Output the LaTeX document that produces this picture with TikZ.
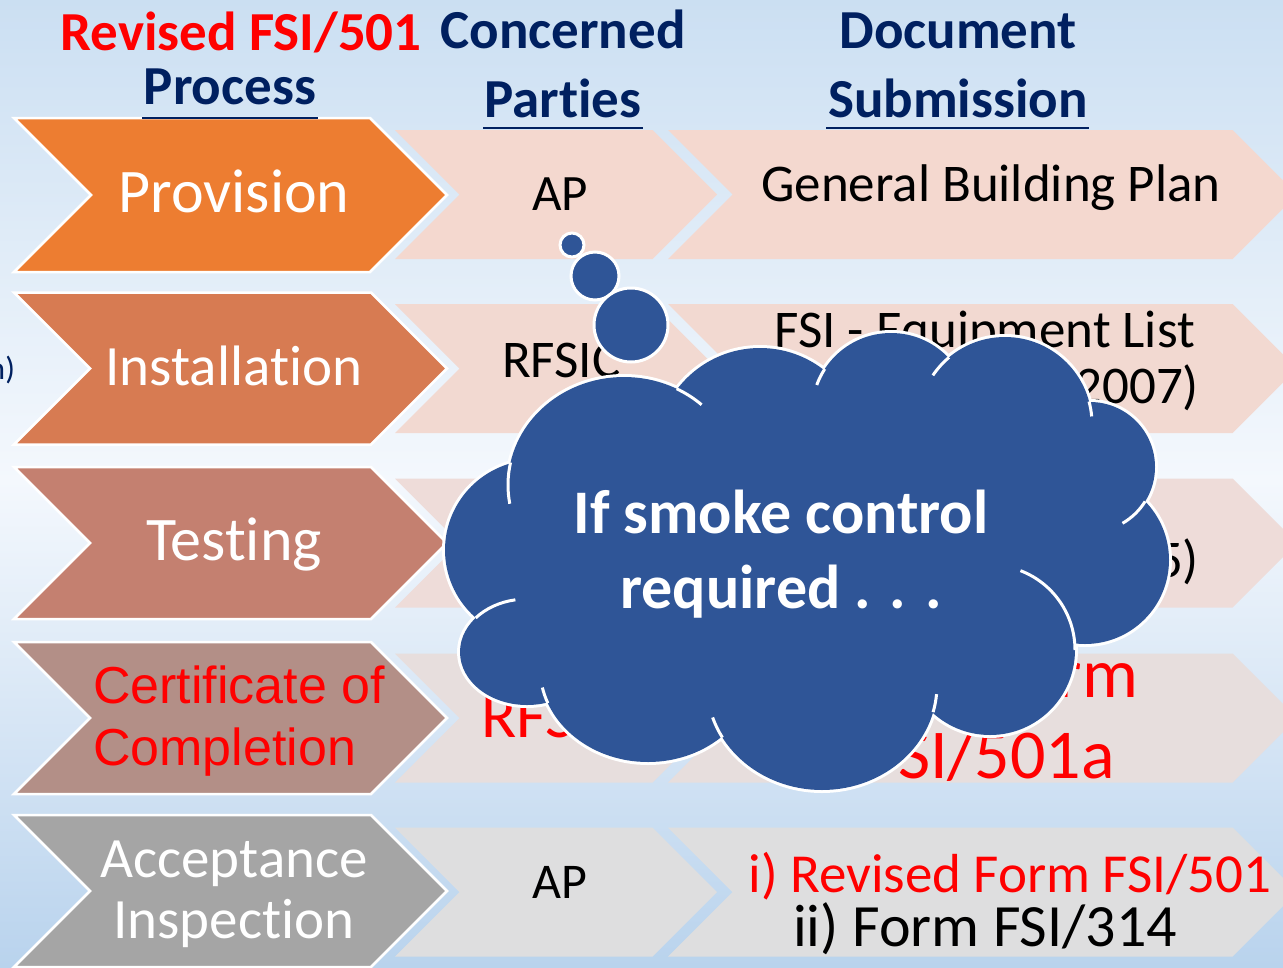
\documentclass[tikz,border=0pt]{standalone}
\usepackage{fontspec}
\setmainfont{Carlito}[Ligatures=NoCommon]
\newfontfamily\arialfont{Liberation Sans}[Ligatures=NoCommon]
\definecolor{bgtop}{HTML}{CBDFF2}
\definecolor{bgmid}{HTML}{F4F8FD}
\definecolor{bgbot}{HTML}{B9D3ED}
\definecolor{navy}{HTML}{002060}
\definecolor{cloudblue}{HTML}{2F5597}
\definecolor{cA}{HTML}{ED7D31}
\definecolor{cB}{HTML}{D77B52}
\definecolor{cC}{HTML}{C48070}
\definecolor{cD}{HTML}{B38F87}
\definecolor{cE}{HTML}{A5A5A5}
\definecolor{lA}{HTML}{F4D8CF}
\definecolor{lB}{HTML}{F2D9D1}
\definecolor{lC}{HTML}{EEDCD9}
\definecolor{lD}{HTML}{E7DEDD}
\definecolor{lE}{HTML}{DEDEDF}
\newcommand{\pxsize}[1]{\fontsize{#1}{#1}\selectfont}
\newcommand{\chevpath}[5]{\fill[#1] (#2,#4-#5) -- (#3-#5,#4-#5) -- (#3,#4) -- (#3-#5,#4+#5) -- (#2,#4+#5) -- (#2+#5,#4) -- cycle;}
\newcommand{\lobelist}{624/485/116/108, 760/452/104/104, 891/412/79/79, 1005/424/87/87, 1090/467/65/65, 1085/560/84/84, 990/650/85/85, 822/685/115/105, 648/668/108/94, 527/652/67/53, 535/550/90/90}
% tails: cx/cy/rx/ry/start/end
\newcommand{\taillist}{624/485/116/108/-63/-48, 891/412/79/79/-147/-160, 1005/424/87/87/-130/-146, 1005/424/87/87/-15/-5, 1090/467/65/65/32/60, 990/650/85/85/-69/0, 822/685/115/105/15/5, 822/685/115/105/150/162, 648/668/108/94/158/168, 527/652/67/53/-140/-100, 624/485/116/108/192/170}
\tikzset{
  txt/.style={inner sep=0pt, outer sep=0pt, anchor=base},
  head/.style={txt, font=\pxsize{55}\bfseries},
  bigchev/.style={draw=white, line width=2.5pt},
  lobe/.style={cloudblue},
  ulink/.style={navy, line width=2pt},
  bubble/.style={fill=cloudblue, draw=white, line width=3pt},
  tail/.style={white, line width=3pt},
}
\begin{document}
\begin{tikzpicture}[x=1pt,y=-1pt]
\path[use as bounding box] (0,0) rectangle (1283,967);
\clip (0,0) rectangle (1283,967);
% background
\fill[top color=bgtop, bottom color=bgmid] (0,0) rectangle (1283,480);
\fill[top color=bgmid, bottom color=bgbot] (0,480) rectangle (1283,967);

% headers
\node[head, red] (h1) at (241,50) {Revised FSI/501};
\node[head, navy] (h2) at (230,104) {Process};
\node[head, navy] (h3) at (563,48) {Concerned};
\node[head, navy] (h4) at (563,117) {Parties};
\node[head, navy] (h5) at (958,48) {Document};
\node[head, navy] (h6) at (958,117) {Submission};

% right chevrons
\chevpath{lA}{668}{1297}{194.5}{64.5}
\chevpath{lB}{668}{1297}{368.5}{64.5}
\chevpath{lC}{668}{1297}{543}{64.5}
\chevpath{lD}{668}{1297}{718}{64.5}
\chevpath{lE}{668}{1297}{892}{64.5}
% middle chevrons
\chevpath{lA}{395}{717}{194.5}{64.5}
\chevpath{lB}{395}{717}{368.5}{64.5}
\chevpath{lC}{395}{717}{543}{64.5}
\chevpath{lD}{395}{717}{718}{64.5}
\chevpath{lE}{395}{717}{892}{64.5}
% left chevrons
\chevpath{cA,bigchev}{14}{447}{195}{77}
\chevpath{cB,bigchev}{14}{447}{368.5}{76}
\chevpath{cC,bigchev}{14}{447}{543}{76}
\chevpath{cD,bigchev}{14}{447}{718}{76}
\chevpath{cE,bigchev}{14}{447}{891}{76}

% header underlines
\draw[ulink] (142,118) -- (318,118);
\draw[ulink] (483,128) -- (643,128);
\draw[ulink] (826,128) -- (1089,128);

% left fragment
\node[txt, navy, anchor=base east, font=\pxsize{32}] (frag) at (15,379) {n)};

% left texts
\node[txt, white, font=\pxsize{62}] (prov) at (234,212) {Provision};
\node[txt, white, font=\pxsize{57}] (inst) at (234,385) {Installation};
\node[txt, white, font=\pxsize{62}] (test) at (234,560) {Testing};
\node[txt, red, anchor=base west, font=\arialfont\pxsize{52}] (cert1) at (93,703) {Certificate of};
\node[txt, red, anchor=base west, font=\arialfont\pxsize{52}] (cert2) at (93,765) {Completion};
\node[txt, white, font=\pxsize{57}] (acc1) at (234,877) {Acceptance};
\node[txt, white, font=\pxsize{57}] (acc2) at (234,938) {Inspection};

% middle texts
\node[txt, font=\pxsize{51}] (ap1) at (560,210) {AP};
\node[txt, anchor=base west, font=\pxsize{53}] (rf2) at (502,377) {RFSIC};
\node[txt, red, anchor=base west, font=\pxsize{65}] (rf4) at (481,737) {RFSIC};
\node[txt, font=\pxsize{50}] (ap5) at (560,898) {AP};

% right texts
\node[txt, font=\pxsize{53}] (gbp) at (991,201) {General Building Plan};
\node[txt, font=\pxsize{53}] (eq1) at (985,347) {FSI - Equipment List};
\node[txt, anchor=base east, font=\pxsize{53}] (eq2) at (1199,403) {(2007)};
\node[txt, anchor=base east, font=\pxsize{53}] (ts2) at (1199,577) {(2005)};
\node[txt, red, anchor=base east, font=\pxsize{70}] (fm1) at (1138,697) {Form};
\node[txt, red, anchor=base east, font=\pxsize{70}] (fm2) at (1115,778) {FSI/501a};
\node[txt, red, font=\pxsize{55}] (ac1) at (1010,892) {i) Revised Form FSI/501};
\node[txt, font=\pxsize{60}] (ac2) at (985,946) {ii) Form FSI/314};

% thought bubbles
\path[bubble] (572,245) circle (12);
\path[bubble] (595,276) circle (24);
\path[bubble] (631,325) circle (37);

% cloud: outer outline, fill, then short inner lobe tails
\foreach \cx/\cy/\rx/\ry in \lobelist {
  \draw[white, line width=6pt] (\cx,\cy) ellipse [x radius=\rx, y radius=\ry];
}
\foreach \cx/\cy/\rx/\ry in \lobelist {
  \fill[lobe] (\cx,\cy) ellipse [x radius=\rx, y radius=\ry];
}
\fill[lobe] (800,545) ellipse [x radius=250, y radius=160];
\foreach \cx/\cy/\rx/\ry/\sa/\ea in \taillist {
  \draw[tail] ({\cx+\rx*cos(\sa)},{\cy+\ry*sin(\sa)}) arc[start angle=\sa, end angle=\ea, x radius=\rx, y radius=\ry];
}

\node[txt, white, font=\pxsize{62}\bfseries] (cl1) at (781,533) {If smoke control};
\node[txt, white, font=\pxsize{62}\bfseries] (cl2) at (781,608) {required . . .};
\end{tikzpicture}
\end{document}
